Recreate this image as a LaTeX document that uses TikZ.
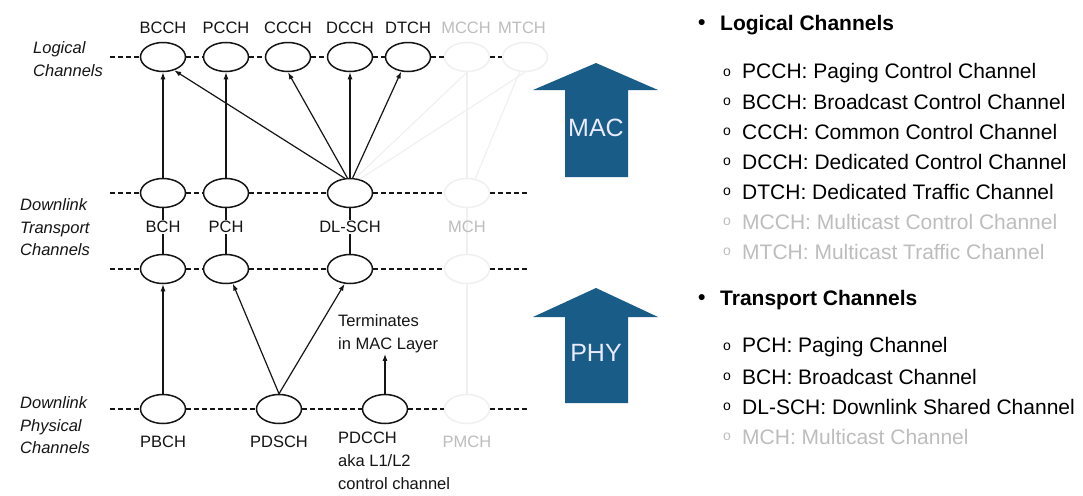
\documentclass[tikz,border=0pt]{standalone}
\usepackage{fontspec}
\setmainfont{Liberation Sans}
\usetikzlibrary{arrows.meta,shapes.geometric}
\definecolor{arrowblue}{HTML}{185C87}
\definecolor{fadeline}{gray}{0.94}
\definecolor{fadetext}{gray}{0.74}
\definecolor{inkc}{HTML}{151515}
\begin{document}
\begin{tikzpicture}[x=1pt,y=-1pt,
  chan/.style={ellipse,draw=inkc,line width=1.5pt,minimum width=45pt,minimum height=29pt,inner sep=0pt},
  fchan/.style={chan,draw=fadeline},
  lbl/.style={font=\fontsize{16.5}{18}\selectfont,text=inkc,inner sep=1pt},
  flbl/.style={lbl,text=fadetext},
  side/.style={font=\fontsize{16.5}{22.5}\selectfont\itshape,text=inkc,align=left,anchor=west,inner sep=0pt},
  dsh/.style={draw=inkc,dash pattern=on 5pt off 3pt,line width=1.2pt},
  link/.style={draw=inkc,line width=1.2pt,-{Latex[length=7pt,width=5pt]}},
  plainlink/.style={draw=inkc,line width=1.2pt},
  flink/.style={line width=1.1pt,draw=fadeline},
  item/.style={anchor=west,font=\fontsize{21}{24}\selectfont,inner sep=0pt},
  fitem/.style={item,text=fadetext},
  bmark/.style={anchor=west,font=\fontsize{14}{16}\selectfont,inner sep=0pt},
  fbmark/.style={bmark,text=fadetext},
  head/.style={anchor=west,font=\fontsize{21}{24}\selectfont\bfseries,inner sep=0pt},
  layerarrow/.style={fill=arrowblue},
  layertext/.style={font=\fontsize{25}{28}\selectfont,text=white!92!blue}
]
\path[use as bounding box,fill=white] (0,0) rectangle (1083,495);

% ---------- left side labels ----------
\node[side] (lgl) at (33,59) {Logical\\Channels};
\node[side] (dtl) at (20,227.5) {Downlink\\Transport\\Channels};
\node[side] (dpl) at (20,425.5) {Downlink\\Physical\\Channels};

% ---------- logical channels ----------
\node[chan] (bcch) at (163,57) {};
\node[chan] (pcch) at (226,57) {};
\node[chan] (ccch) at (288,57) {};
\node[chan] (dcch) at (350,57) {};
\node[chan] (dtch) at (408,57) {};
\node[fchan] (mcch) at (467,57) {};
\node[fchan] (mtch) at (525,57) {};
\node[lbl] (bcchl) at (163,28) {BCCH};
\node[lbl] (pcchl) at (226,28) {PCCH};
\node[lbl] (ccchl) at (288,28) {CCCH};
\node[lbl] (dcchl) at (350,28) {DCCH};
\node[lbl] (dtchl) at (408,28) {DTCH};
\node[flbl] (mcchl) at (466,28) {MCCH};
\node[flbl] (mtchl) at (522,28) {MTCH};

% ---------- transport channels ----------
\node[chan] (bch) at (163,193) {};
\node[chan] (pch) at (226,193) {};
\node[chan] (dlsch) at (350,193) {};
\node[fchan] (mch) at (467,193) {};
\node[chan] (bchb) at (163,269) {};
\node[chan] (pchb) at (226,269) {};
\node[chan] (dlschb) at (350,269) {};
\node[fchan] (mchb) at (467,269) {};

% ---------- physical channels ----------
\node[chan] (pbch) at (163,409) {};
\node[chan] (pdsch) at (279,409) {};
\node[chan] (pdcch) at (385,409) {};
\node[fchan] (pmch) at (467,409) {};

% ---------- dashed rows ----------
\coordinate (l0) at (110,57);
\coordinate (t0) at (110,193);
\coordinate (t9) at (528,193);
\coordinate (u0) at (110,269);
\coordinate (u9) at (528,269);
\coordinate (p0) at (110,409);
\coordinate (p9) at (528,409);
\draw[dsh] (l0) -- (bcch.west) (bcch.east) -- (pcch.west) (pcch.east) -- (ccch.west)
  (ccch.east) -- (dcch.west) (dcch.east) -- (dtch.west) (dtch.east) -- (mcch.west)
  (mcch.east) -- (mtch.west);
\draw[dsh] (t0) -- (bch.west) (bch.east) -- (pch.west) (pch.east) -- (dlsch.west)
  (dlsch.east) -- (mch.west) (mch.east) -- (t9);
\draw[dsh] (u0) -- (bchb.west) (bchb.east) -- (pchb.west) (pchb.east) -- (dlschb.west)
  (dlschb.east) -- (mchb.west) (mchb.east) -- (u9);
\draw[dsh] (p0) -- (pbch.west) (pbch.east) -- (pdsch.west) (pdsch.east) -- (pdcch.west)
  (pdcch.east) -- (pmch.west) (pmch.east) -- (p9);

% ---------- faded connectors ----------
\draw[flink] (dlsch.70) -- (mcch.south);
\draw[flink] (dlsch.55) -- (mtch.south);
\draw[flink] (mch.north) -- (mcch.south);
\draw[flink] (mch.60) -- (mtch.250);
\draw[flink] (mch.south) -- (mchb.north);
\draw[flink] (pmch.north) -- (mchb.south);

% ---------- connectors ----------
\draw[plainlink] (bch.south) -- (bchb.north);
\draw[plainlink] (pch.south) -- (pchb.north);
\draw[plainlink] (dlsch.south) -- (dlschb.north);
\draw[link] (bch.north) -- (bcch.south);
\draw[link] (pch.north) -- (pcch.south);
\draw[link] (dlsch.110) -- (bcch.-50);
\draw[link] (dlsch.100) -- (ccch.south);
\draw[link] (dlsch.north) -- (dcch.south);
\draw[link] (dlsch.80) -- (dtch.245);
\draw[link] (pbch.north) -- (bchb.south);
\draw[link] (pdsch.north) -- (pchb.-65);
\draw[link] (pdsch.north) -- (dlschb.-110);

% labels on transport / physical
\node[lbl,fill=white] (bchl) at (163,227) {BCH};
\node[lbl,fill=white] (pchl) at (226,227) {PCH};
\node[lbl,fill=white] (dlschl) at (350,227) {DL-SCH};
\node[flbl] (mchl) at (467,227) {MCH};
\node[lbl] (pbchl) at (163,442) {PBCH};
\node[lbl] (pdschl) at (279,442) {PDSCH};
\node[flbl] (pmchl) at (467,442) {PMCH};
\node[lbl,anchor=north west,align=left,font=\fontsize{16.5}{23}\selectfont] (pdcchl) at (337,431) {PDCCH\\aka L1/L2\\control channel};
\node[lbl,anchor=west,align=left,font=\fontsize{16.5}{23}\selectfont] (term) at (337,333.5) {Terminates\\in MAC Layer};
\draw[link] (pdcch.north) -- (pdcch.north |- term.south);

% ---------- MAC / PHY arrows ----------
\fill[layerarrow] (565,177) -- (565,90) -- (533,90) -- (596,63) -- (658,90) -- (628,90) -- (628,177) -- cycle;
\node[layertext] (mac) at (596,128) {MAC};
\fill[layerarrow] (565,403) -- (565,317) -- (533,317) -- (596,288) -- (658,317) -- (628,317) -- (628,403) -- cycle;
\node[layertext] (phy) at (596,353) {PHY};

% ---------- right-hand list ----------
\node[head] (b1) at (698,25) {\textbullet};
\node[head] (h1) at (720,25) {Logical Channels};
\node[bmark] (m1) at (723,73) {o};
\node[item] (i1) at (742,73) {PCCH: Paging Control Channel};
\node[bmark] (m2) at (723,102) {o};
\node[item] (i2) at (742,102) {BCCH: Broadcast Control Channel};
\node[bmark] (m3) at (723,132) {o};
\node[item] (i3) at (742,132) {CCCH: Common Control Channel};
\node[bmark] (m4) at (723,162) {o};
\node[item] (i4) at (742,162) {DCCH: Dedicated Control Channel};
\node[bmark] (m5) at (723,192) {o};
\node[item] (i5) at (742,192) {DTCH: Dedicated Traffic Channel};
\node[fbmark] (m6) at (723,222) {o};
\node[fitem] (i6) at (742,222) {MCCH: Multicast Control Channel};
\node[fbmark] (m7) at (723,252) {o};
\node[fitem] (i7) at (742,252) {MTCH: Multicast Traffic Channel};

\node[head] (b2) at (698,300) {\textbullet};
\node[head] (h2) at (720,300) {Transport Channels};
\node[bmark] (n1) at (723,347) {o};
\node[item] (j1) at (742,347) {PCH: Paging Channel};
\node[bmark] (n2) at (723,377) {o};
\node[item] (j2) at (742,377) {BCH: Broadcast Channel};
\node[bmark] (n3) at (723,407) {o};
\node[item] (j3) at (742,407) {DL-SCH: Downlink Shared Channel};
\node[fbmark] (n4) at (723,437) {o};
\node[fitem] (j4) at (742,437) {MCH: Multicast Channel};
\end{tikzpicture}
\end{document}
